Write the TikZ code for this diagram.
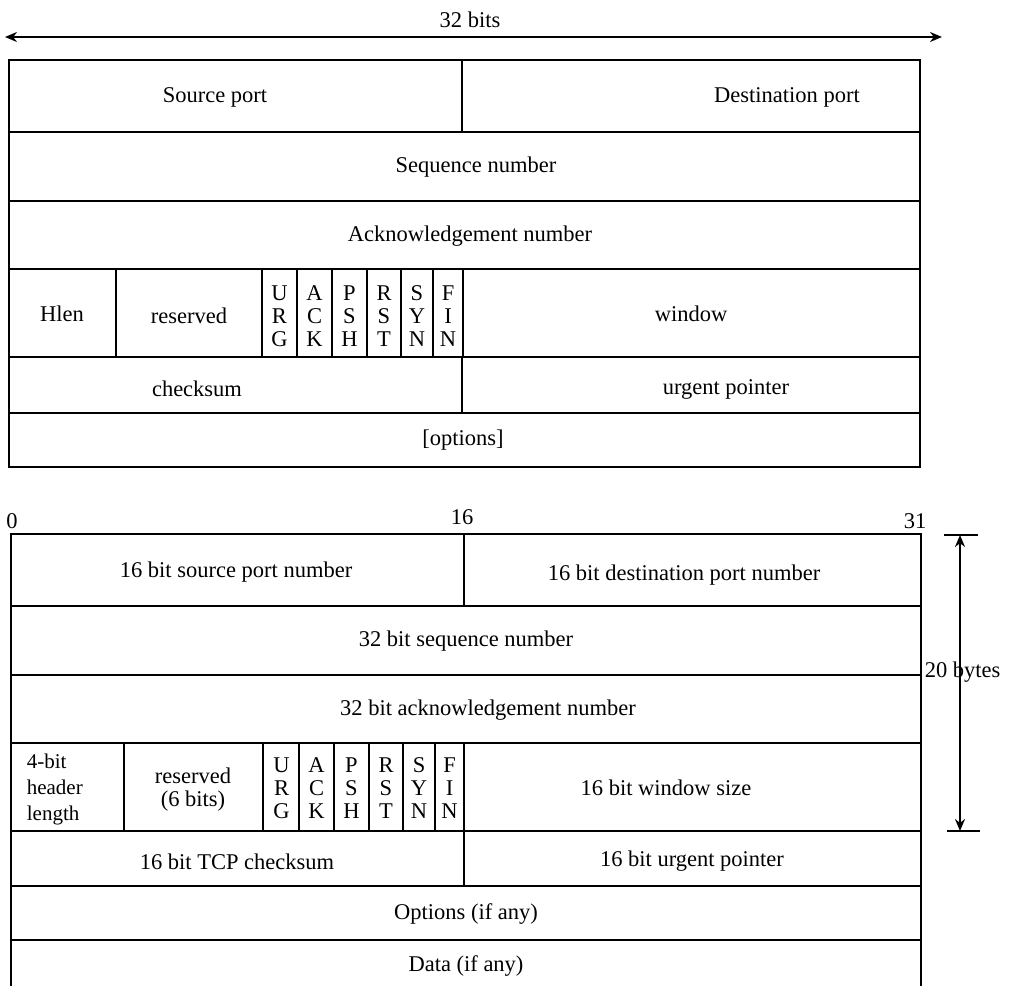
\documentclass[tikz,border=0pt]{standalone}
\usepackage{fontspec}
\setmainfont{Liberation Serif}
\usetikzlibrary{arrows.meta}
\begin{document}
\begin{tikzpicture}[x=1pt,y=-1pt, line width=1.7pt,
  txt/.style={font=\fontsize{22.5}{23}\selectfont, inner sep=0pt},
  flagtxt/.style={txt, align=center},
  dimarrow/.style={line width=2.2pt, {Stealth[length=12pt,width=10pt]}-{Stealth[length=12pt,width=10pt]}}]
\useasboundingbox (0,0) rectangle (1019,986);

% ---------- top header ----------
\coordinate (tl) at (5,37);
\coordinate (tr) at (942,37);
\draw[dimarrow] (tl) -- (tr);
\node[txt] (bits32) at (470,20) {32 bits};

\draw (9,60) rectangle (920,467);
\foreach \y in {132,201,269,357,413} \draw (9,\y) -- (920,\y);
\draw (462,60) -- (462,132);
\draw (462,357) -- (462,413);
\foreach \x in {116,262,297,332,367,401,433,463} \draw (\x,269) -- (\x,357);

\node[txt] (srcport) at (215,97) {Source port};
\node[txt] (dstport) at (787,97) {Destination port};
\node[txt] (seq) at (476,167) {Sequence number};
\node[txt] (ack) at (470,236) {Acknowledgement number};
\node[txt] (hlen) at (62,314) {Hlen};
\node[txt] (res) at (189,316) {reserved};
\node[flagtxt] (urg) at (279.5,316) {U\\R\\G};
\node[flagtxt] (fack) at (314.5,316) {A\\C\\K};
\node[flagtxt] (psh) at (349.5,316) {P\\S\\H};
\node[flagtxt] (rst) at (384,316) {R\\S\\T};
\node[flagtxt] (syn) at (417,316) {S\\Y\\N};
\node[flagtxt] (fin) at (448,316) {F\\I\\N};
\node[txt] (win) at (691,314) {window};
\node[txt] (chk) at (197,389) {checksum};
\node[txt] (urgp) at (726,389) {urgent pointer};
\node[txt] (opt) at (463,440) {[options]};

% ---------- bottom header ----------
\node[txt] (b0) at (12,521) {0};
\node[txt] (b16) at (462,517) {16};
\node[txt] (b31) at (915,521) {31};

\draw (11,986) -- (11,534) -- (921,534) -- (921,986);
\foreach \y in {606,675,743,831,886,940} \draw (11,\y) -- (921,\y);
\draw (464,534) -- (464,606);
\draw (464,831) -- (464,886);
\foreach \x in {124,263,299,334,369,403,435,464} \draw (\x,743) -- (\x,831);

\node[txt] (src16) at (236,572) {16 bit source port number};
\node[txt] (dst16) at (684,575) {16 bit destination port number};
\node[txt] (seq32) at (466,641) {32 bit sequence number};
\node[txt] (ack32) at (488,710) {32 bit acknowledgement number};
\node[txt, align=left, anchor=west, font=\fontsize{21}{26}\selectfont] (hlen4) at (26,789) {4-bit\\header\\length};
\node[txt, align=center] (res6) at (193,790) {reserved\\(6 bits)};
\node[flagtxt] (urg2) at (281.5,788) {U\\R\\G};
\node[flagtxt] (ack2) at (316.5,788) {A\\C\\K};
\node[flagtxt] (psh2) at (351.5,788) {P\\S\\H};
\node[flagtxt] (rst2) at (386,788) {R\\S\\T};
\node[flagtxt] (syn2) at (419,788) {S\\Y\\N};
\node[flagtxt] (fin2) at (449.5,788) {F\\I\\N};
\node[txt] (win16) at (666,788) {16 bit window size};
\node[txt] (chk16) at (237,862) {16 bit TCP checksum};
\node[txt] (urg16) at (692,861) {16 bit urgent pointer};
\node[txt] (optany) at (466,914) {Options (if any)};
\node[txt] (data) at (466,966) {Data (if any)};

% ---------- 20 bytes dimension ----------
\coordinate (vt) at (960,535);
\coordinate (vb) at (960,831);
\coordinate (tk1a) at (944,535);
\coordinate (tk1b) at (978,535);
\coordinate (tk2a) at (947,831);
\coordinate (tk2b) at (980,831);
\draw (tk1a) -- (tk1b);
\draw (tk2a) -- (tk2b);
\draw[dimarrow] (vt) -- (vb);
\node[txt, anchor=west] (bytes20) at (924,672) {20 bytes};
\end{tikzpicture}
\end{document}
